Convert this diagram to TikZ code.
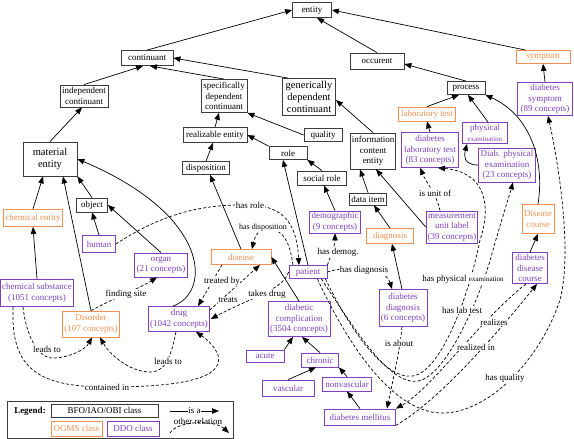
\documentclass[tikz,border=0pt]{standalone}
\usepackage{fontspec}
\setmainfont{Liberation Serif}
\usetikzlibrary{calc, arrows.meta}
\definecolor{ogmsorange}{RGB}{245,145,80}
\definecolor{ddopurple}{RGB}{128,64,192}
\definecolor{bfogray}{RGB}{60,60,60}

\begin{document}
\begin{tikzpicture}[x=1pt, y=-1pt,
    cls/.style={draw, line width=0.8pt, fill=white, align=center, inner sep=1.5pt, font=\fontsize{9}{10.5}\selectfont},
    bfo/.style={cls, draw=bfogray, text=black},
    big/.style={font=\fontsize{10.5}{12}\selectfont},
    ogms/.style={cls, draw=ogmsorange, text=ogmsorange},
    ddo/.style={cls, draw=ddopurple, text=ddopurple},
    sz/.style 2 args={minimum width=#1pt, minimum height=#2pt},
    isa/.style={-{Triangle[length=7pt,width=5.5pt]}, line width=0.7pt},
    rel/.style={isa, dash pattern=on 3pt off 2pt},
    lbl/.style={fill=white, inner sep=0.5pt, font=\fontsize{9}{10}\selectfont}]
    \useasboundingbox (0,0) rectangle (574,439);

    \node[bfo, sz={39}{15}] (entity) at (312,10) {entity};
    \node[bfo, sz={52}{15}] (continuant) at (147,58) {continuant};
    \node[bfo, sz={48}{22}] (indcont) at (84,96) {independent\\continuant};
    \node[bfo, sz={46}{33}] (sdc) at (224,96) {specifically\\dependent\\continuant};
    \node[bfo, big, sz={53}{37}] (gdc) at (309,97) {generically\\dependent\\continuant};
    \node[bfo, sz={54}{16}] (occurent) at (377,61) {occurent};
    \node[bfo, sz={38}{13}] (process) at (466,88) {process};
    \node[bfo, sz={64}{15}] (realizable) at (215,135) {realizable entity};
    \node[bfo, sz={38}{13}] (quality) at (323,135) {quality};
    \node[bfo, sz={38}{13}] (role) at (288,153) {role};
    \node[bfo, sz={49}{14}] (socialrole) at (322,178) {social role};
    \node[bfo, sz={47}{13}] (disposition) at (206,168) {disposition};
    \node[bfo, big, sz={54}{34}] (material) at (50,159) {material\\entity};
    \node[bfo, sz={31}{14}] (object) at (92,205) {object};
    \node[bfo, sz={44}{36}] (ice) at (373,151) {information\\content\\entity};
    \node[bfo, sz={37}{12}] (dataitem) at (368,199) {data item};

    \node[ogms, sz={54}{13}] (symptom) at (543,57) {symptom};
    \node[ogms, sz={57}{14}] (labtest) at (427,114) {laboratory test};
    \node[ogms, sz={59}{17}] (chement) at (33,218) {chemical entity};
    \node[ogms, sz={60}{15}] (disease) at (241,257) {disease};
    \node[ogms, sz={47}{15}] (diagnosis) at (390,236) {diagnosis};
    \node[ogms, sz={32}{29}] (diseasecourse) at (538,219) {Disease\\course};
    \node[ogms, sz={57}{26}] (disorder) at (91,324) {Disorder\\(107 concepts)};

    \node[ddo, sz={55}{33}] (dsymptom) at (545,99) {diabetes\\symptom\\(89 concepts)};
    \node[ddo, sz={45}{21}] (physexam) at (485,133) {physical\\{\fontsize{7}{8}\selectfont examination}};
    \node[ddo, sz={57}{35}] (dlabtest) at (430,150) {diabetes\\laboratory test\\(83 concepts)};
    \node[ddo, sz={57}{34}] (dphysexam) at (507,165) {Diab. physical\\examination\\(23 concepts)};
    \node[ddo, sz={51}{22}] (demographic) at (335,222) {demographic\\(9 concepts)};
    \node[ddo, sz={51}{32}] (unitlabel) at (452,227) {measurement\\unit label\\(39 concepts)};
    \node[ddo, sz={35}{31}] (ddcourse) at (530,268) {diabetes\\disease\\course};
    \node[ddo, sz={33}{17}] (human) at (99,244) {human};
    \node[ddo, sz={53}{24}] (organ) at (161,265) {organ\\(21 concepts)};
    \node[ddo, sz={73}{27}] (chemsub) at (37,293) {chemical substance\\(1051 concepts)};
    \node[ddo, sz={60}{25}] (drug) at (179,319) {drug\\(1042 concepts)};
    \node[ddo, sz={38}{13}] (patient) at (308,272) {patient};
    \node[ddo, sz={62}{35}] (dcomp) at (299,319) {diabetic\\complication\\(3504 concepts)};
    \node[ddo, sz={48}{37}] (ddiag) at (403,308) {diabetes\\diagnosis\\(6 concepts)};
    \node[ddo, sz={38}{12}] (acute) at (265,356) {acute};
    \node[ddo, sz={37}{14}] (chronic) at (320,360) {chronic};
    \node[ddo, sz={52}{16}] (vascular) at (288,388) {vascular};
    \node[ddo, sz={49}{14}] (nonvascular) at (347,384) {nonvascular};
    \node[ddo, sz={71}{16}] (dmellitus) at (360,417) {diabetes mellitus};

    \draw[isa] (continuant.north) -- (entity.west);
    \draw[isa] (occurent.north) -- ($(entity.south)+(5,0)$);
    \draw[isa] ($(symptom.north west)+(10,0)$) -- (entity.east);
    \draw[isa] (indcont.north) -- ($(continuant.south)+(-4,0)$);
    \draw[isa] (sdc.north) -- ($(continuant.south)+(3,0)$);
    \draw[isa] ($(gdc.north west)+(6,0)$) -- (continuant.east);
    \draw[isa] (process.north) -- ($(occurent.east)+(0,3)$);
    \draw[isa] (labtest.north) -- ($(process.south)+(-7,0)$);
    \draw[isa] ($(physexam.north)+(3,0)$) -- ($(process.south)+(2,0)$);
    \draw[isa] (diseasecourse.north) .. controls (545,160) and (530,115) .. (process.south east);
    \draw[isa] (dsymptom.north) -- (symptom.south);
    \draw[isa] (dlabtest.north) -- (labtest.south);
    \draw[isa] (dphysexam.west) .. controls (463,165) and (464,155) .. ($(physexam.south west)+(5,0)$);
    \draw[isa] (ddcourse.north) -- (diseasecourse.south);
    \draw[isa] (realizable.north) -- ($(sdc.south)+(-5,0)$);
    \draw[isa] (quality.west) -- (sdc.south east);
    \draw[isa] (disposition.north) -- ($(realizable.south)+(-2,0)$);
    \draw[isa] (role.north west) -- (realizable.east);
    \draw[isa] (socialrole.north) -- (role.south east);
    \draw[isa] (ice.north) -- ($(gdc.east)+(0,3)$);
    \draw[isa] (dataitem.north) -- ($(ice.south)+(-13,0)$);
    \draw[isa] (unitlabel.west) -- ($(ice.south)+(3,0)$);
    \draw[isa] (diagnosis.north) -- ($(dataitem.south)+(6,0)$);
    \draw[isa] ($(ddiag.north)+(-1,0)$) -- ($(diagnosis.south)+(2,0)$);
    \draw[isa] (demographic.north) -- ($(socialrole.south)+(2,0)$);
    \draw[isa] (patient.north) -- ($(role.south)+(-5,0)$);
    \draw[isa] (material.north) -- ($(indcont.south)+(-2,0)$);
    \draw[isa] (chement.north) -- ($(material.south)+(-7,0)$);
    \draw[isa] (object.north) -- (material.south east);
    \draw[isa] (disorder.north) -- ($(material.south)+(13,0)$);
    \draw[isa] ($(drug.north)+(-6,0)$) .. controls (212,292) and (210,215) .. (material.east);
    \draw[isa] (human.north) -- (object.south);
    \draw[isa] (organ.north) -- (object.east);
    \draw[isa] (chemsub.north) -- (chement.south);
    \draw[isa] (disease.north) -- ($(disposition.south)+(4,0)$);
    \draw[isa] (dcomp.north) -- (disease.east);
    \draw[isa] (acute.north east) -- ($(dcomp.south)+(-6,0)$);
    \draw[isa] (chronic.north) -- ($(dcomp.south)+(3,0)$);
    \draw[isa] (vascular.north) -- ($(chronic.south)+(-4,0)$);
    \draw[isa] (nonvascular.north) -- (chronic.south east);
    \draw[isa] (dmellitus.north) -- (nonvascular.south);

    \draw[rel] (human.east) .. controls (165,212) and (205,204) .. (250,205) .. controls (290,206) and (297,232) .. ($(patient.north)+(-9,0)$);
    \draw[rel] ($(patient.north)+(-15,0)$) .. controls (290,245) and (285,228) .. (265,228) .. controls (257,230) and (254,240) .. ($(disease.north)+(11,0)$);
    \draw[rel] ($(disease.south)+(-19,0)$) -- ($(drug.north)+(19,0)$);
    \draw[rel] ($(drug.north east)+(0,4)$) -- ($(disease.south)+(19,0)$);
    \draw[rel] (patient.west) .. controls (283,290) and (250,298) .. ($(drug.east)+(1,0)$);
    \draw[rel] (patient.north east) .. controls (331,255) and (335,245) .. (demographic.south);
    \draw[rel] (patient.east) .. controls (345,266) and (385,266) .. ($(ddiag.north)+(-11,0)$);
    \draw[rel] (disorder.north) .. controls (110,300) and (140,288) .. ($(organ.south)+(-4,0)$);
    \draw[rel] ($(chemsub.south)+(-14,0)$) .. controls (26,335) and (38,360) .. (55,358) .. controls (70,357) and (85,350) .. ($(disorder.south)+(1,0)$);
    \draw[rel] ($(drug.south)+(-3,0)$) .. controls (172,350) and (168,372) .. (150,372) .. controls (130,372) and (110,355) .. ($(disorder.south)+(9,0)$);
    \draw[rel] ($(chemsub.south west)+(13,0)$) .. controls (10,370) and (40,387) .. (107,387) .. controls (175,387) and (225,380) .. (218,355) .. controls (214,345) and (205,338) .. ($(drug.south)+(17,0)$);
    \draw[rel] ($(unitlabel.north)+(-12,0)$) .. controls (437,195) and (425,180) .. ($(dlabtest.south)+(-10,0)$);
    \draw[rel] ($(ddiag.south)+(-1,0)$) .. controls (400,350) and (393,380) .. ($(dmellitus.north)+(27,0)$);
    \draw[rel] ($(patient.south east)+(-2,0)$) .. controls (350,330) and (385,380) .. (413,376) .. controls (440,372) and (468,300) .. (480,240) .. controls (492,205) and (485,172) .. ($(dlabtest.south)+(8,0)$);
    \draw[rel] ($(patient.south east)+(-6,0)$) .. controls (355,330) and (390,386) .. (418,381) .. controls (445,377) and (480,300) .. (493,250) .. controls (500,225) and (508,200) .. ($(dphysexam.south)+(6,0)$);
    \draw[rel] ($(patient.south east)+(-10,0)$) .. controls (355,360) and (400,415) .. (445,413) .. controls (490,411) and (540,360) .. (560,300) .. controls (572,255) and (560,170) .. ($(dsymptom.south)+(3,0)$);
    \draw[rel] ($(ddcourse.south)+(-4,0)$) .. controls (480,320) and (430,390) .. (dmellitus.north east);
    \draw[rel] (dmellitus.south east) .. controls (440,400) and (500,330) .. ($(ddcourse.south)+(7,0)$);

    \node[lbl] (lhasrole) at (250,205) {has role};
    \node[lbl, font=\fontsize{8}{9}\selectfont] (lhasdisp) at (263,228) {has disposition};
    \node[lbl] (ltreatedby) at (222,281) {treated by};
    \node[lbl] (ltreats) at (228,300) {treats};
    \node[lbl] (ltakes) at (267,294) {takes drug};
    \node[lbl] (lhasdemog) at (338,252) {has demog.};
    \node[lbl] (lhasdiag) at (364,270) {has diagnosis};
    \node[lbl] (lfinding) at (126,294) {finding site};
    \node[lbl] (lleads) at (47,349) {leads to};
    \node[lbl] (lleadsdrug) at (168,361) {leads to};
    \node[lbl] (lcontained) at (107,387) {contained in};
    \node[lbl] (lunit) at (435,193) {is unit of};
    \node[lbl] (labout) at (399,343) {is about};
    \node[lbl] (lphys) at (463,279) {has physical {\fontsize{7}{8}\selectfont examination}};
    \node[lbl] (llab) at (462,310) {has lab test};
    \node[lbl] (lrealizes) at (494,322) {realizes};
    \node[lbl] (lrealized) at (476,347) {realized in};
    \node[lbl] (lquality) at (505,378) {has quality};

    \node[draw=bfogray, line width=1pt, sz={226}{37}] (legend) at (120,419.5) {};
    \node[font=\fontsize{9}{10}\selectfont\bfseries] (legendtitle) at (30,411) {Legend:};
    \node[bfo, sz={107}{13}] (legbfo) at (104.5,410.5) {BFO/IAO/OBI class};
    \node[ogms, sz={51}{15}] (legogms) at (76.5,428.5) {OGMS class};
    \node[ddo, sz={52}{15}] (legddo) at (133,428.5) {DDO class};
    \coordinate (isafrom) at (170,411);
    \coordinate (isato) at (219,411);
    \draw[isa] (isafrom) -- node[lbl] (lisa) {is a} (isato);
    \coordinate (relfrom) at (170,433);
    \coordinate (relto) at (229,433);
    \draw[rel] (relfrom) .. controls (178,420) and (215,420) .. (relto);
    \node[font=\fontsize{9}{10}\selectfont] (lrel) at (198,421) {other relation};
\end{tikzpicture}
\end{document}
